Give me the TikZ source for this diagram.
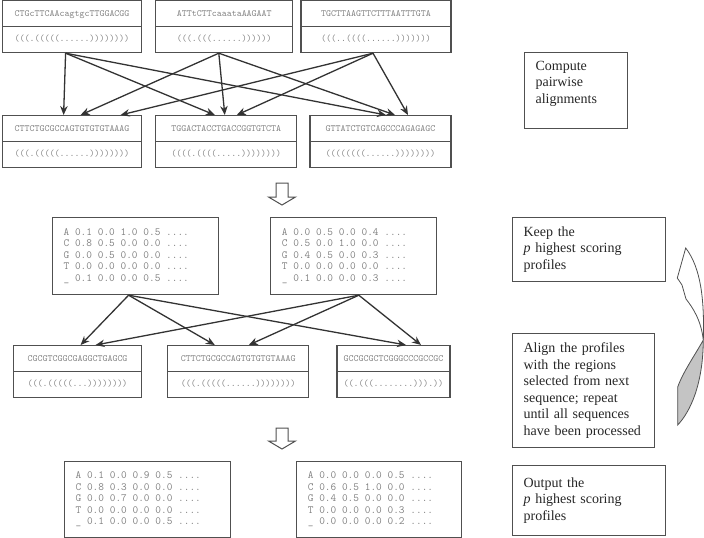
\documentclass[tikz,border=0pt]{standalone}
\usepackage{fontspec}
\setmainfont{Liberation Serif}
\usepackage{tikz}
\usetikzlibrary{shapes, arrows.meta, positioning, calc}

\definecolor{boxgray}{HTML}{505050}
\definecolor{txtgray}{HTML}{808080}
\definecolor{fillgray}{HTML}{C4C4C4}

\begin{document}
\begin{tikzpicture}[
        x=1pt, y=-1pt,
        seqbox/.style={rectangle, draw=boxgray, line width=1.2pt, minimum height=52pt, inner sep=0pt, align=center, text=txtgray, font=\ttfamily\fontsize{9.5}{25.5}\selectfont},
        profbox/.style={rectangle, draw=boxgray, line width=1.2pt, minimum height=77pt, text width=#1, inner xsep=11pt, inner ysep=0pt, align=left, text=txtgray, font=\ttfamily\fontsize{11}{11.5}\selectfont, execute at begin node={\spaceskip=5.8pt\relax}},
        stepbox/.style={rectangle, draw=boxgray, line width=1.2pt, text width=#1, inner xsep=11pt, inner ysep=0pt, align=left, text=black!85, font=\fontsize{14}{16.5}\selectfont},
        arrow/.style={-{Stealth[length=9pt, width=7.5pt]}, line width=1.3pt, draw=black!80},
        hollow/.style={draw=boxgray, line width=1pt, fill=white}
    ]
        \useasboundingbox (0,0) rectangle (704,538);

        % first row: input sequences
        \node[seqbox, minimum width=139pt, anchor=north west] (s1) at (2,0) {CTGcTTCAAcagtgcTTGGACGG\\(((.(((((......))))))))};
        \node[seqbox, minimum width=137pt, right=13pt of s1] (s2) {ATTtCTTcaaataAAGAAT\\(((.(((......))))))};
        \node[seqbox, minimum width=150pt, right=7pt of s2] (s3) {TGCTTAAGTTCTTTAATTTGTA\\(((..((((......)))))))};

        % second row: pairwise alignments
        \node[seqbox, minimum width=139pt, anchor=north west] (s4) at (2,115) {CTTCTGCGCCAGTGTGTGTAAAG\\(((.(((((......))))))))};
        \node[seqbox, minimum width=141pt, right=13pt of s4] (s5) {TGGACTACCTGACCGGTGTCTA\\((((.((((.....))))))))};
        \node[seqbox, minimum width=141pt, right=12pt of s5] (s6) {GTTATCTGTCAGCCCAGAGAGC\\((((((((......))))))))};

        % third row: profiles
        \node[profbox=144pt, anchor=north west] (p1) at (52,217) {A 0.1 0.0 1.0 0.5 ....\\C 0.8 0.5 0.0 0.0 ....\\G 0.0 0.5 0.0 0.0 ....\\T 0.0 0.0 0.0 0.0 ....\\\_ 0.1 0.0 0.0 0.5 ....};
        \node[profbox=144pt, right=51pt of p1] (p2) {A 0.0 0.5 0.0 0.4 ....\\C 0.5 0.0 1.0 0.0 ....\\G 0.4 0.5 0.0 0.3 ....\\T 0.0 0.0 0.0 0.0 ....\\\_ 0.1 0.0 0.0 0.3 ....};

        % fourth row: regions of next sequence
        \node[seqbox, minimum width=128pt, anchor=north west] (s7) at (13,345) {CGCGTCGGCGAGGCTGAGCG\\(((.(((((...))))))))};
        \node[seqbox, minimum width=141pt, right=25pt of s7] (s8) {CTTCTGCGCCAGTGTGTGTAAAG\\(((.(((((......))))))))};
        \node[seqbox, minimum width=113pt, right=27pt of s8] (s9) {GCCGCGCTCGGGCCCGCCGC\\((.(((........))).))};

        % last row: output profiles
        \node[profbox=144pt, minimum height=76pt, anchor=north west] (p3) at (64,461) {A 0.1 0.0 0.9 0.5 ....\\C 0.8 0.3 0.0 0.0 ....\\G 0.0 0.7 0.0 0.0 ....\\T 0.0 0.0 0.0 0.0 ....\\\_ 0.1 0.0 0.0 0.5 ....};
        \node[profbox=143pt, minimum height=76pt, right=65pt of p3] (p4) {A 0.0 0.0 0.0 0.5 ....\\C 0.6 0.5 1.0 0.0 ....\\G 0.4 0.5 0.0 0.0 ....\\T 0.0 0.0 0.0 0.3 ....\\\_ 0.0 0.0 0.0 0.2 ....};

        % split lines
        \foreach \n in {s1,s2,s3,s4,s5,s6,s7,s8,s9}
            \draw[boxgray, line width=1.2pt] (\n.west) -- (\n.east);

        % step descriptions
        \node[stepbox=81pt, minimum height=76pt, anchor=north west] (compute) at (524,52) {Compute\\pairwise\\alignments\\\mbox{}};
        \node[stepbox=131pt, minimum height=64pt, anchor=north west] (keep) at (512,217) {Keep the\\\textit{p} highest scoring\\profiles};
        \node[stepbox=120pt, minimum height=114pt, anchor=north west] (align) at (512,333) {Align the profiles\\with the regions\\selected from next\\sequence; repeat\\until all sequences\\have been processed};
        \node[stepbox=131pt, minimum height=70pt, anchor=north west] (output) at (512,465) {Output the\\\textit{p} highest scoring\\profiles};

        % hollow arrows
        \draw[hollow] (276,183) -- (288,183) -- (288,197) -- (295.5,197) -- (282,205) -- (268.5,197) -- (276,197) -- cycle;
        \draw[hollow] (276,428) -- (288,428) -- (288,441) -- (295.5,441) -- (282,449) -- (268.5,441) -- (276,441) -- cycle;

        % curved loop arrow
        \draw[boxgray, line width=0.8pt, fill=white] (685.7,248) -- (677.3,278) -- (682,285) -- (686,299) .. controls (693,308) and (701,320) .. (703.3,340) .. controls (704.5,300) and (701,268) .. (685.7,248) -- cycle;
        \draw[boxgray, line width=0.8pt, fill=fillgray] (703.3,340) .. controls (695,355) and (683,372) .. (677.7,387) -- (677.7,425) .. controls (690,412) and (703,385) .. (703.3,340) -- cycle;

        % arrows to alignments
        \draw[arrow] ([xshift=-6.5pt]s1.south) -- ([xshift=-8.5pt]s4.north);
        \draw[arrow] ([xshift=-6.5pt]s1.south) -- ([xshift=-11.5pt]s5.north);
        \draw[arrow] ([xshift=-6.5pt]s1.south) -- ([xshift=5.5pt]s6.north);
        \draw[arrow] ([xshift=-5.5pt]s2.south) -- ([xshift=8.5pt]s4.north);
        \draw[arrow] ([xshift=-5.5pt]s2.south) -- ([xshift=-1.5pt]s5.north);
        \draw[arrow] ([xshift=-5.5pt]s2.south) -- ([xshift=14.5pt]s6.north);
        \draw[arrow] ([xshift=-3pt]s3.south) -- ([xshift=48.5pt]s4.north);
        \draw[arrow] ([xshift=-3pt]s3.south) -- ([xshift=10.5pt]s5.north);
        \draw[arrow] ([xshift=-3pt]s3.south) -- ([xshift=27.5pt]s6.north);

        % arrows to regions
        \draw[arrow] ([xshift=-7pt]p1.south) -- ([xshift=3pt]s7.north);
        \draw[arrow] ([xshift=-7pt]p1.south) -- ([xshift=-23.5pt]s8.north);
        \draw[arrow] ([xshift=-7pt]p1.south) -- ([xshift=12.5pt]s9.north);
        \draw[arrow] ([xshift=5pt]p2.south) -- ([xshift=18pt]s7.north);
        \draw[arrow] ([xshift=5pt]p2.south) -- ([xshift=10.5pt]s8.north);
        \draw[arrow] ([xshift=5pt]p2.south) -- ([xshift=27.5pt]s9.north);
    \end{tikzpicture}
\end{document}
